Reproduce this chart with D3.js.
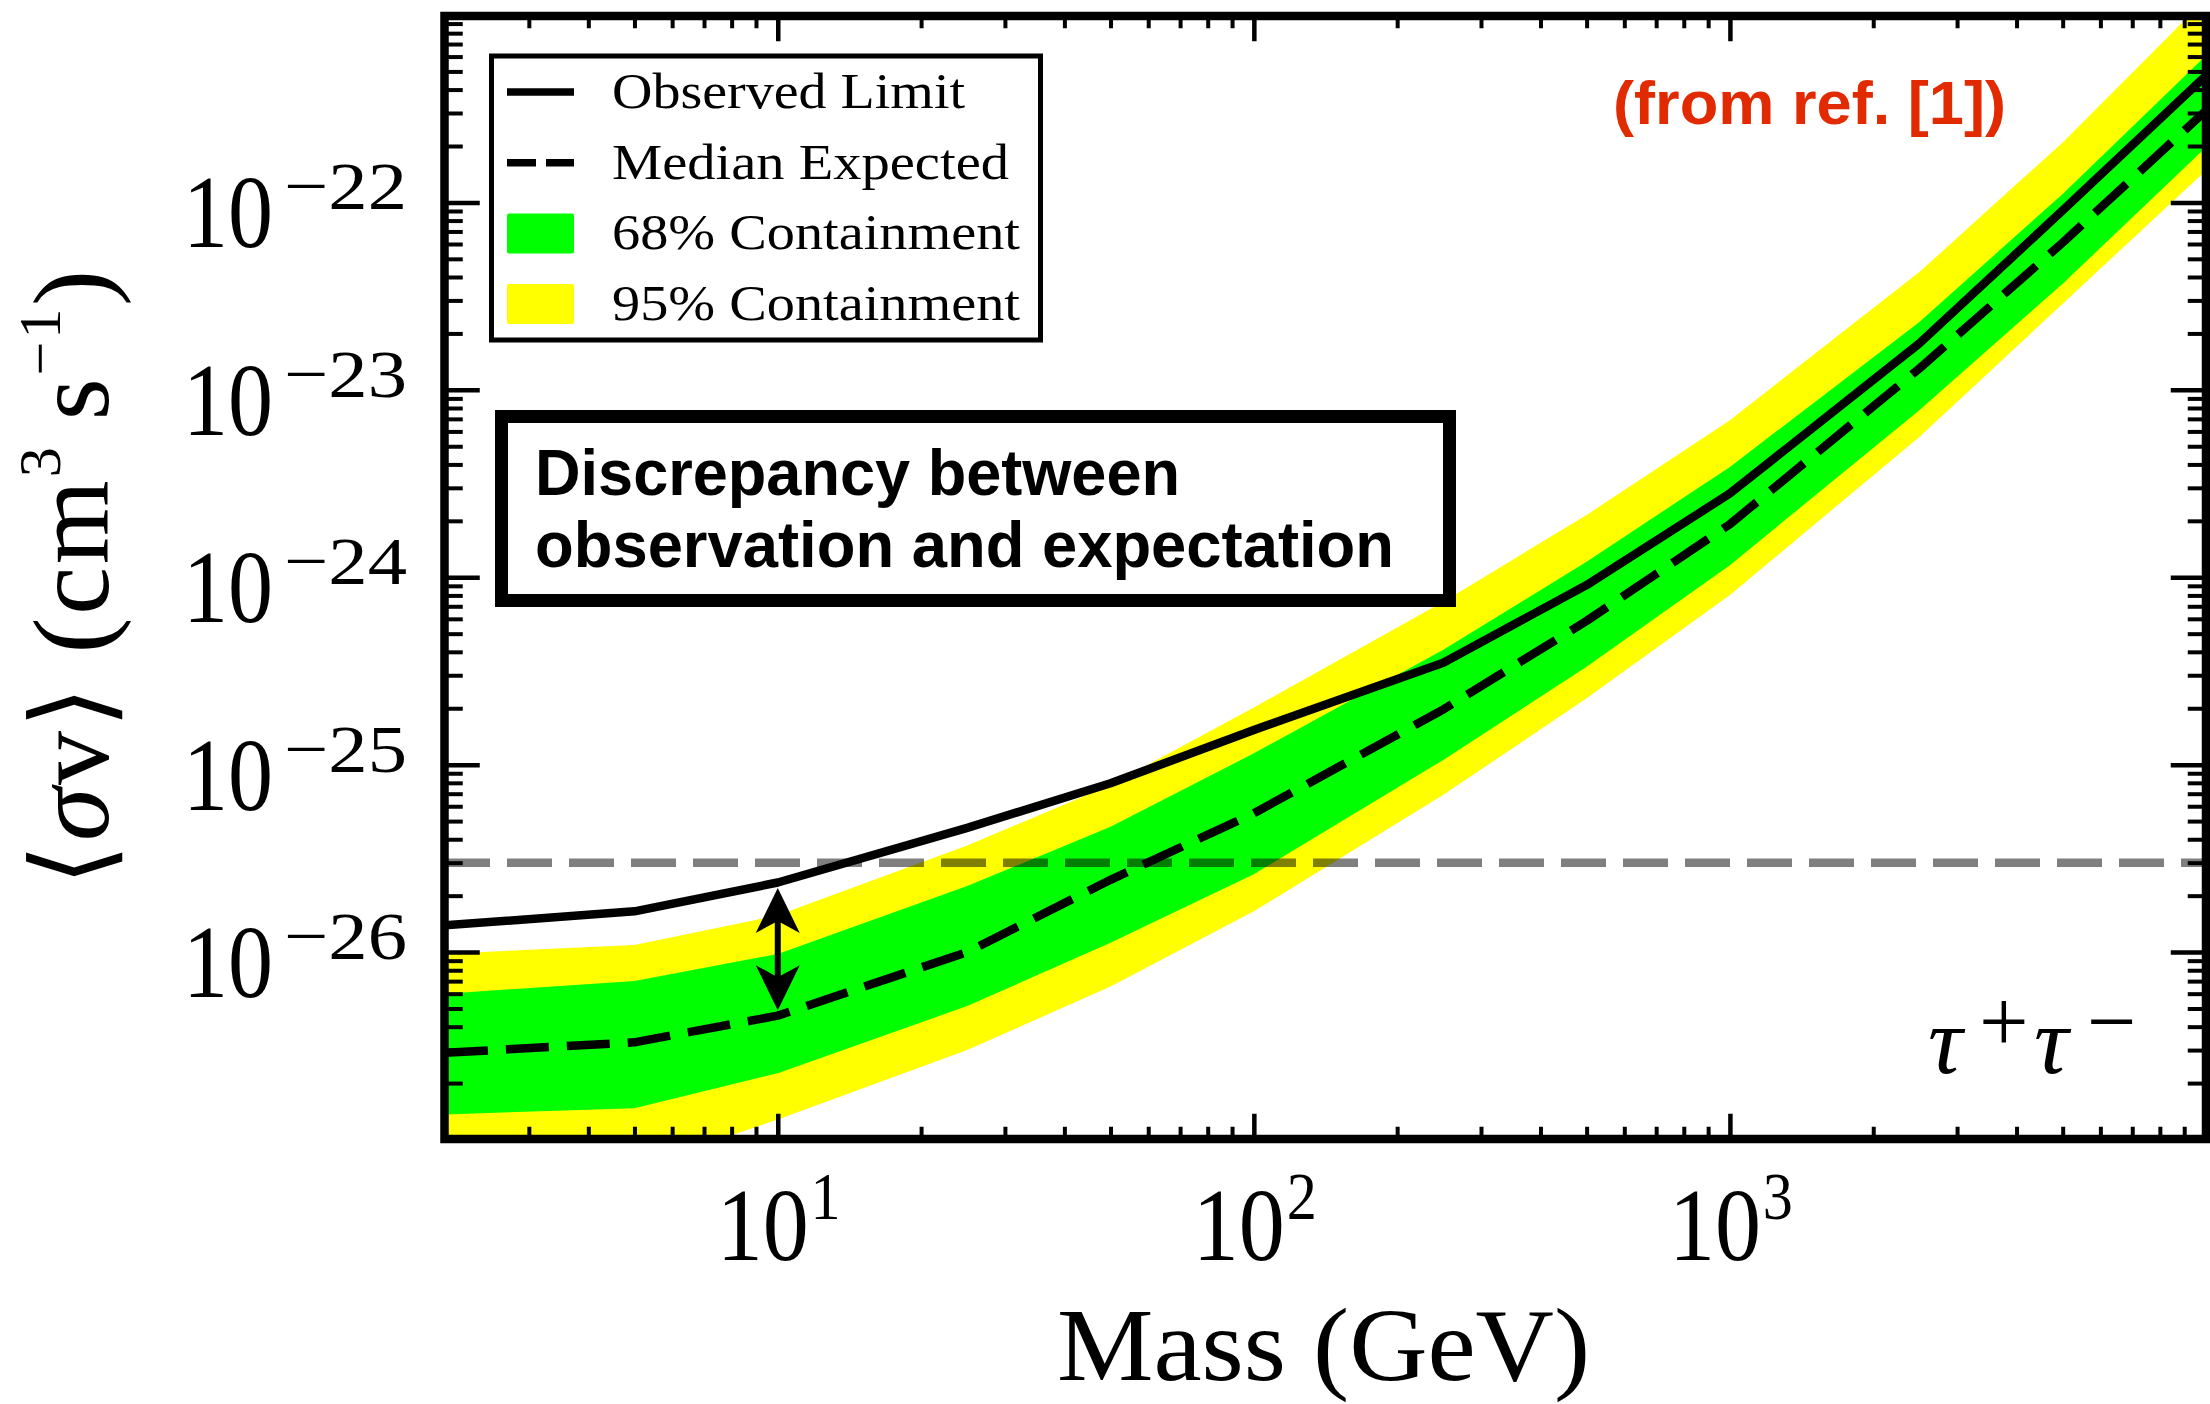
<!DOCTYPE html>
<html>
<head>
<meta charset="utf-8">
<script src="https://cdn.jsdelivr.net/npm/d3@7"></script>
<style>
  html, body { margin: 0; padding: 0; background: #fff; }
  svg { display: block; }
</style>
</head>
<body>
<svg id="chart"></svg>
<script>
// Dark matter annihilation limits, tau+ tau- channel.
const masses        = [2, 5, 10, 25, 50, 100, 250, 500, 1000, 2500, 5000, 10000];           // GeV
const observed      = [1.39e-26, 1.65e-26, 2.35e-26, 4.6e-26, 7.96e-26, 1.53e-25, 3.5e-25, 9.08e-25, 2.8e-24, 1.77e-23, 9.06e-23, 4.75e-22];
const median        = [2.9e-27, 3.3e-27, 4.58e-27, 1.0e-26, 2.43e-26, 5.5e-26, 1.97e-25, 5.85e-25, 1.92e-24, 1.3e-23, 6.1e-23, 3.09e-22];
const band68Lower   = [1.36e-27, 1.47e-27, 2.26e-27, 5.15e-27, 1.12e-26, 2.6e-26, 1.06e-25, 3.33e-25, 1.16e-24, 7.79e-24, 3.68e-23, 1.97e-22];
const band68Upper   = [6.0e-27, 7.0e-27, 9.77e-27, 2.25e-26, 4.66e-26, 1.15e-25, 4.1e-25, 1.21e-24, 3.88e-24, 2.3e-23, 1.11e-22, 6.08e-22];
const band95Lower   = [6.5e-28, 7.0e-28, 1.28e-27, 3.0e-27, 6.56e-27, 1.65e-26, 6.9e-26, 2.26e-25, 8.04e-25, 5.61e-24, 2.88e-23, 1.48e-22];
const band95Upper   = [9.8e-27, 1.09e-26, 1.57e-26, 3.7e-26, 7.8e-26, 2.02e-25, 7.4e-25, 2.15e-24, 6.89e-24, 4.25e-23, 2.09e-22, 1.22e-21];

const thermalRelic  = 3e-26;                 // canonical thermal relic cross section
const arrowMass     = 10;                    // discrepancy arrow at 10 GeV
const arrowTop      = 2.2e-26;
const arrowBottom   = 4.9e-27;

const xDomain = [2, 1e4];
const yDomain = [1e-27, 1e-21];
const xTickExponents = [1, 2, 3];
const yTickExponents = [-22, -23, -24, -25, -26];

const legendLabels = ["Observed Limit", "Median Expected", "68% Containment", "95% Containment"];
const noteLines = ["Discrepancy between", "observation and expectation"];
const sourceNote = "(from ref. [1])";

// ---------------------------------------------------------------------------
const W = 2210, H = 1404;
const M = { left: 445, right: 2206, top: 15, bottom: 1139.5 };
const SERIF = "'Liberation Serif', 'DejaVu Serif', serif";
const SANS = "'Liberation Sans', Arial, sans-serif";
const GREEN = "#00ff00", YELLOW = "#ffff00";

const svg = d3.select("#chart")
  .attr("width", W).attr("height", H)
  .attr("viewBox", `0 0 ${W} ${H}`);
svg.append("rect").attr("width", W).attr("height", H).attr("fill", "#fff");

const x = d3.scaleLog().domain(xDomain).range([M.left, M.right]);
const y = d3.scaleLog().domain(yDomain).range([M.bottom, M.top]);

svg.append("defs").append("clipPath").attr("id", "plot-clip")
  .append("rect")
  .attr("x", M.left).attr("y", M.top)
  .attr("width", M.right - M.left).attr("height", M.bottom - M.top);

const rows = masses.map((m, i) => ({
  m, obs: observed[i], med: median[i],
  lo68: band68Lower[i], hi68: band68Upper[i],
  lo95: band95Lower[i], hi95: band95Upper[i]
}));

const plot = svg.append("g").attr("clip-path", "url(#plot-clip)");

// containment bands
plot.append("path").datum(rows)
  .attr("fill", YELLOW)
  .attr("d", d3.area().x(d => x(d.m)).y0(d => y(d.lo95)).y1(d => y(d.hi95)));
plot.append("path").datum(rows)
  .attr("fill", GREEN)
  .attr("d", d3.area().x(d => x(d.m)).y0(d => y(d.lo68)).y1(d => y(d.hi68)));

// thermal relic reference line
plot.append("line")
  .attr("x1", M.left).attr("x2", M.right)
  .attr("y1", y(thermalRelic)).attr("y2", y(thermalRelic))
  .attr("stroke", "#000").attr("stroke-opacity", 0.5)
  .attr("stroke-width", 8.5).attr("stroke-dasharray", "45,17");

// limit curves
plot.append("path").datum(rows)
  .attr("fill", "none").attr("stroke", "#000").attr("stroke-width", 8.5)
  .attr("stroke-linejoin", "round")
  .attr("d", d3.line().x(d => x(d.m)).y(d => y(d.obs)));
plot.append("path").datum(rows)
  .attr("fill", "none").attr("stroke", "#000").attr("stroke-width", 8.5)
  .attr("stroke-dasharray", "43,18").attr("stroke-linejoin", "round")
  .attr("d", d3.line().x(d => x(d.m)).y(d => y(d.med)));

// double-headed arrow between observed and expected
{
  const ax = x(arrowMass), a1 = y(arrowTop), a2 = y(arrowBottom);
  const hl = 45, hw = 22, notch = 33;
  plot.append("line")
    .attr("x1", ax).attr("x2", ax).attr("y1", a1 + notch).attr("y2", a2 - notch)
    .attr("stroke", "#000").attr("stroke-width", 6);
  plot.append("path").attr("fill", "#000")
    .attr("d", `M${ax},${a1} L${ax + hw},${a1 + hl} L${ax},${a1 + notch} L${ax - hw},${a1 + hl} Z`);
  plot.append("path").attr("fill", "#000")
    .attr("d", `M${ax},${a2} L${ax + hw},${a2 - hl} L${ax},${a2 - notch} L${ax - hw},${a2 - hl} Z`);
}

// ---------------------------------------------------------------------------
// axes: inward major and minor ticks on all four sides
const xMajor = [10, 100, 1000];
const xMinor = [];
for (let e = 0; e <= 3; e++) for (let k = 2; k <= 9; k++) {
  const v = k * Math.pow(10, e);
  if (v >= xDomain[0] && v <= xDomain[1]) xMinor.push(v);
}
const yMajor = d3.range(-26, -21).map(e => Math.pow(10, e));
const yMinor = [];
for (let e = -27; e <= -22; e++) for (let k = 2; k <= 9; k++) yMinor.push(k * Math.pow(10, e));

const spineW = 8.5, half = spineW / 2;
const vMajor = 21, vMinor = 8;    // ticks on horizontal spines
const hMajor = 31, hMinor = 14;   // ticks on vertical spines
const yTop = 16, yBot = 1139, xL = 444.5, xR = 2206;

function styleAxis(sel, w) {
  sel.select(".domain").remove();
  sel.selectAll(".tick text").remove();
  sel.selectAll(".tick line").attr("stroke", "#000").attr("stroke-width", w);
}
const axes = svg.append("g");
axes.append("g").attr("transform", `translate(0,${yBot})`)
  .call(d3.axisBottom(x).tickValues(xMajor).tickSize(-(vMajor + half)).tickFormat(() => ""))
  .call(s => styleAxis(s, 4.5));
axes.append("g").attr("transform", `translate(0,${yBot})`)
  .call(d3.axisBottom(x).tickValues(xMinor).tickSize(-(vMinor + half)).tickFormat(() => ""))
  .call(s => styleAxis(s, 4));
axes.append("g").attr("transform", `translate(0,${yTop})`)
  .call(d3.axisTop(x).tickValues(xMajor).tickSize(-(vMajor + half)).tickFormat(() => ""))
  .call(s => styleAxis(s, 4.5));
axes.append("g").attr("transform", `translate(0,${yTop})`)
  .call(d3.axisTop(x).tickValues(xMinor).tickSize(-(vMinor + half)).tickFormat(() => ""))
  .call(s => styleAxis(s, 4));
axes.append("g").attr("transform", `translate(${xL},0)`)
  .call(d3.axisLeft(y).tickValues(yMajor).tickSize(-(hMajor + half)).tickFormat(() => ""))
  .call(s => styleAxis(s, 4.5));
axes.append("g").attr("transform", `translate(${xL},0)`)
  .call(d3.axisLeft(y).tickValues(yMinor).tickSize(-(hMinor + half)).tickFormat(() => ""))
  .call(s => styleAxis(s, 4));
axes.append("g").attr("transform", `translate(${xR},0)`)
  .call(d3.axisRight(y).tickValues(yMajor).tickSize(-(hMajor + half)).tickFormat(() => ""))
  .call(s => styleAxis(s, 4.5));
axes.append("g").attr("transform", `translate(${xR},0)`)
  .call(d3.axisRight(y).tickValues(yMinor).tickSize(-(hMinor + half)).tickFormat(() => ""))
  .call(s => styleAxis(s, 4));

// frame
svg.append("rect")
  .attr("x", xL).attr("y", yTop).attr("width", xR - xL).attr("height", yBot - yTop)
  .attr("fill", "none").attr("stroke", "#000").attr("stroke-width", spineW);

// tick labels (powers of ten)
const labels = svg.append("g").attr("font-family", SERIF).attr("fill", "#000");
xTickExponents.forEach(e => {
  const px = x(Math.pow(10, e));
  const t = labels.append("text")
    .attr("transform", `translate(${px - 61},1260) scale(0.885,1)`)
    .attr("font-size", 104);
  t.append("tspan").text("10");
  t.append("tspan").attr("dx", 2).attr("dy", -41).attr("font-size", 68).text(String(e));
});
yTickExponents.forEach(e => {
  const py = y(Math.pow(10, e));
  labels.append("text")
    .attr("x", 183).attr("y", py + 45)
    .attr("font-size", 104)
    .attr("textLength", 90).attr("lengthAdjust", "spacingAndGlyphs")
    .text("10");
  labels.append("text")
    .attr("x", 284).attr("y", py + 7)
    .attr("font-size", 68)
    .attr("textLength", 123).attr("lengthAdjust", "spacingAndGlyphs")
    .text("\u2212" + String(Math.abs(e)));
});

// axis titles
labels.append("text")
  .attr("x", 1057).attr("y", 1380)
  .attr("font-size", 104)
  .attr("textLength", 533).attr("lengthAdjust", "spacingAndGlyphs")
  .text("Mass (GeV)");

{
  const t = labels.append("text")
    .attr("transform", "translate(108,886) rotate(-90)")
    .attr("text-anchor", "start")
    .attr("font-size", 108)
    .attr("textLength", 616).attr("lengthAdjust", "spacing");
  t.append("tspan").attr("font-family", "'DejaVu Serif', serif").attr("font-weight", 200).text("\u27E8");
  t.append("tspan").attr("font-style", "italic").text("\u03C3");
  t.append("tspan").text("v");
  t.append("tspan").attr("font-family", "'DejaVu Serif', serif").attr("font-weight", 200).text("\u27E9");
  t.append("tspan").text(" (cm");
  t.append("tspan").attr("font-size", 60).attr("dy", -48).text("3");
  t.append("tspan").attr("dy", 48).text("\u2009s");
  t.append("tspan").attr("font-size", 60).attr("dy", -48).text("\u22121");
  t.append("tspan").attr("dy", 48).text(")");
}

// channel label
{
  const t = labels.append("text").attr("y", 1073).attr("font-size", 96);
  t.append("tspan").attr("x", 1928).attr("font-style", "italic").text("\u03C4");
  t.append("tspan").attr("x", 1979).attr("y", 1051).attr("font-size", 88).text("+");
  t.append("tspan").attr("x", 2034).attr("y", 1073).attr("font-style", "italic").text("\u03C4");
  t.append("tspan").attr("x", 2087).attr("y", 1051).attr("font-size", 88).text("\u2212");
}

// ---------------------------------------------------------------------------
// legend
{
  const lg = svg.append("g").attr("font-family", SERIF);
  lg.append("rect")
    .attr("x", 491.5).attr("y", 56).attr("width", 549).attr("height", 284)
    .attr("fill", "#fff").attr("stroke", "#000").attr("stroke-width", 5);
  const widths = [353, 397, 408, 408];
  legendLabels.forEach((label, i) => {
    const base = 108 + i * 70.7, cy = base - 16;
    if (i === 0) {
      lg.append("line").attr("x1", 507).attr("x2", 574).attr("y1", cy).attr("y2", cy)
        .attr("stroke", "#000").attr("stroke-width", 7.5);
    } else if (i === 1) {
      lg.append("line").attr("x1", 507).attr("x2", 574).attr("y1", cy).attr("y2", cy)
        .attr("stroke", "#000").attr("stroke-width", 7.5).attr("stroke-dasharray", "29,10");
    } else {
      lg.append("rect").attr("x", 507).attr("y", cy - 20).attr("width", 67).attr("height", 40)
        .attr("rx", 2).attr("fill", i === 2 ? GREEN : YELLOW);
    }
    lg.append("text")
      .attr("x", 612).attr("y", base)
      .attr("font-size", 51)
      .attr("textLength", widths[i]).attr("lengthAdjust", "spacingAndGlyphs")
      .text(label);
  });
}

// annotation box
{
  const g = svg.append("g").attr("font-family", SANS).attr("font-weight", "bold");
  g.append("rect")
    .attr("x", 501.5).attr("y", 416.5).attr("width", 948).attr("height", 184)
    .attr("fill", "#fff").attr("stroke", "#000").attr("stroke-width", 13);
  const lineWidths = [645, 859];
  noteLines.forEach((line, i) => {
    g.append("text")
      .attr("x", 535).attr("y", 495 + i * 72)
      .attr("font-size", 65)
      .attr("textLength", lineWidths[i]).attr("lengthAdjust", "spacingAndGlyphs")
      .text(line);
  });
  g.append("text")
    .attr("x", 1613).attr("y", 124)
    .attr("font-size", 62).attr("fill", "#e12a00")
    .attr("textLength", 393).attr("lengthAdjust", "spacingAndGlyphs")
    .text(sourceNote);
}
</script>
</body>
</html>
